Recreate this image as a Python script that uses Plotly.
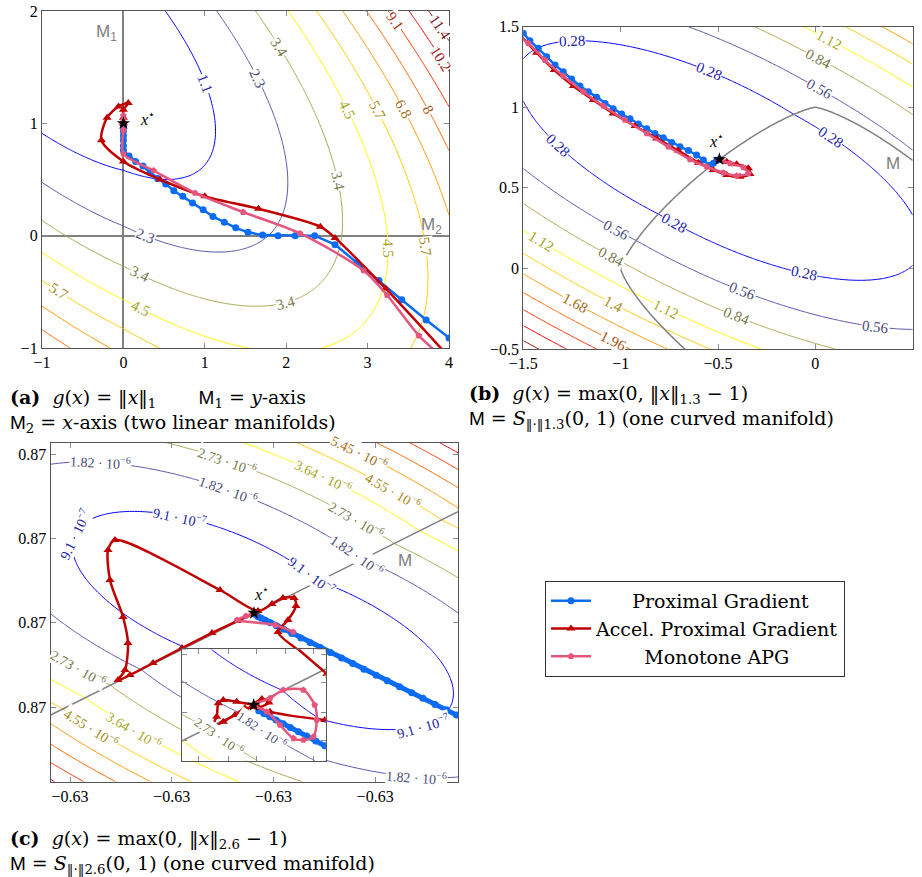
import numpy as np
import plotly.graph_objects as go

W, H = 922, 877
SERIF = "Liberation Serif, DejaVu Serif, serif"
TEXT_SERIF = "DejaVu Serif, Liberation Serif, serif"
SANS = "Liberation Sans, DejaVu Sans, sans-serif"

LEVEL_COLORS = ["#0000ff", "#5555aa", "#aaaa55", "#ffff00", "#ffcc00",
                "#ff9900", "#ff6600", "#ff3300", "#e60000", "#a00000"]
PG_COLOR = "#0a6cf5"
APG_COLOR = "#c00000"
MAPG_COLOR = "#e5567c"
M_GRAY = "#808080"

# ---------------- panel (a): F = quadratic + weighted |x1|, |x2| ----------------
COEF_A = [1.043, 1.002, 1.942, -0.9755, -2.974, 2.52, -0.09259, 0.03062]
STEP_A = 1.13636
LEVEL_TEXT_A = ["1.1", "2.3", "3.4", "4.5", "5.7", "6.8", "8", "9.1", "10.2", "11.4"]
RANGE_A_X = [-1, 4]
RANGE_A_Y = [-1, 2]
TICKS_A_X = [-1, 0, 1, 2, 3, 4]
TICKS_A_Y = [-1, 0, 1, 2]
STAR_A = (0.0, 1.0)
PG_A_X = [4.25, 4.0, 3.72, 3.42, 3.14, 2.87, 2.60, 2.35, 2.11, 1.90, 1.71, 1.53, 1.38, 1.24, 1.10,
          0.98, 0.85, 0.73, 0.62, 0.52, 0.42, 0.33, 0.24, 0.15, 0.07, 0.0, 0.0, 0.0, 0.0, 0.0,
          0.0, 0.0, 0.0]
PG_A_Y = [-1.12, -0.91, -0.75, -0.57, -0.40, -0.24, -0.08, 0.0, 0.0, 0.0, 0.005, 0.03, 0.07, 0.12,
          0.17, 0.23, 0.29, 0.35, 0.40, 0.46, 0.51, 0.56, 0.62, 0.66, 0.71, 0.76, 0.80, 0.85,
          0.89, 0.93, 0.96, 0.98, 1.0]
APG_A_X = [4.05, 3.22, 2.60, 2.42, 1.66, 1.00, 0.45, 0.0, -0.27, -0.20, -0.06, 0.06, 0.0, 0.0, 0.0]
APG_A_Y = [-1.12, -0.47, -0.02, 0.08, 0.24, 0.35, 0.50, 0.66, 0.85, 1.05, 1.15, 1.18, 1.12, 1.05, 1.0]
MAPG_A_X = [3.95, 3.63, 3.24, 2.95, 2.17, 1.47, 0.88, 0.37, 0.0, 0.0, 0.0, 0.0, 0.0]
MAPG_A_Y = [-1.1, -0.89, -0.53, -0.31, 0.02, 0.21, 0.38, 0.58, 0.73, 0.94, 1.07, 1.03, 1.0]
# where the level labels sit: (x, y, level number)
LABELS_A = [(0.98, 1.34, 1), (1.64, 1.39, 2), (0.27, -0.02, 2), (1.90, 1.67, 3), (2.62, 0.48, 3),
            (0.20, -0.35, 3), (1.99, -0.59, 3), (2.75, 1.12, 4), (3.24, -0.11, 4), (0.20, -0.66, 4),
            (3.12, 1.12, 5), (3.70, -0.10, 5), (-0.80, -0.50, 5), (3.43, 1.12, 6), (3.75, 1.12, 7),
            (3.30, 1.88, 8), (3.86, 1.54, 9), (3.86, 1.83, 10)]

# ---------------- panel (b): F = quadratic + w * max(0, ||x||_1.3 - 1) ----------------
COEF_B = [1.025, 0.956, 1.981, -0.1641, -0.8254, 0.2405, -0.06956]
STEP_B = 0.28
P_B = 1.3
LEVEL_TEXT_B = ["0.28", "0.56", "0.84", "1.12", "1.4", "1.68", "1.96", "2.24", "2.52", "2.8"]
RANGE_B_X = [-1.5, 0.5]
RANGE_B_Y = [-0.5, 1.5]
TICKS_B_X = [-1.5, -1, -0.5, 0, 0.5]
TICKS_B_Y = [-0.5, 0, 0.5, 1, 1.5]
STAR_B = (-0.493, 0.677)
PG_B_X = [-1.55, -1.5, -1.466, -1.423, -1.380, -1.337, -1.295, -1.252, -1.209, -1.166, -1.123, -1.080,
          -1.038, -0.995, -0.952, -0.909, -0.866, -0.824, -0.781, -0.738, -0.695, -0.652, -0.610,
          -0.575, -0.545, -0.524, -0.507, -0.493]
PG_B_Y = [1.51, 1.46, 1.413, 1.366, 1.314, 1.262, 1.221, 1.175, 1.132, 1.097, 1.062, 1.024, 0.991,
          0.958, 0.929, 0.896, 0.867, 0.838, 0.811, 0.782, 0.755, 0.731, 0.704, 0.673, 0.638, 0.652,
          0.669, 0.677]
APG_B_X = [-1.55, -1.432, -1.341, -1.243, -1.140, -1.038, -0.926, -0.815, -0.704, -0.601, -0.524,
           -0.455, -0.387, -0.336, -0.344, -0.404, -0.455, -0.493]
APG_B_Y = [1.49, 1.339, 1.231, 1.132, 1.045, 0.962, 0.884, 0.807, 0.731, 0.656, 0.611, 0.580, 0.569,
           0.586, 0.621, 0.646, 0.662, 0.677]
MAPG_B_X = [-1.55, -1.474, -1.389, -1.295, -1.192, -1.089, -0.978, -0.866, -0.755, -0.644, -0.558,
            -0.473, -0.404, -0.344, -0.370, -0.438, -0.493]
MAPG_B_Y = [1.47, 1.397, 1.293, 1.194, 1.097, 1.008, 0.921, 0.838, 0.755, 0.677, 0.631, 0.594, 0.575,
            0.590, 0.627, 0.652, 0.677]
LABELS_B = [(-1.25, 1.42, 1), (-0.55, 1.22, 1), (0.08, 0.82, 1), (-1.33, 0.76, 1), (-0.74, 0.26, 1),
            (-0.06, -0.03, 1), (0.02, 1.11, 2), (-1.03, 0.23, 2), (-0.37, -0.13, 2), (0.31, -0.37, 2),
            (0.01, 1.29, 3), (-1.05, 0.07, 3), (-0.40, -0.29, 3), (0.06, 1.40, 4), (-1.41, 0.17, 4),
            (-0.77, -0.25, 4), (-1.04, -0.22, 5), (-1.23, -0.21, 6), (-1.02, -0.42, 7)]

# ---------------- panel (c): close-up near x* (local units, labels every 1e-4) ----------------
COEF_C = [0.8631, 0.7207, 1.841, -2.521, -3.012, 4.303, -0.606]
STEP_C = 0.909091  # contour spacing, in units of 1e-6
LEVEL_TEXT_C = ["9.1 \u00b7 10<sup>\u22127</sup>", "1.82 \u00b7 10<sup>\u22126</sup>",
                "2.73 \u00b7 10<sup>\u22126</sup>", "3.64 \u00b7 10<sup>\u22126</sup>",
                "4.55 \u00b7 10<sup>\u22126</sup>", "5.45 \u00b7 10<sup>\u22126</sup>",
                "6.36 \u00b7 10<sup>\u22126</sup>", "7.27 \u00b7 10<sup>\u22126</sup>",
                "8.18 \u00b7 10<sup>\u22126</sup>", "9.09 \u00b7 10<sup>\u22126</sup>"]
TICKS_C_X = [0, 1, 2, 3]
TICKS_C_Y = [0, 1, 2, 3]
TICKTEXT_C_X = ["\u22120.63"] * 4
TICKTEXT_C_Y = ["0.87"] * 4
RANGE_C_X = [-0.19, 3.815]
RANGE_C_Y = [-0.886, 3.135]
M_C_X = [-0.19, 3.815]
M_C_Y = [-0.095, 2.317]
STAR_C = (1.809, 1.115)
PG_C_X = [3.95, 3.80, 3.70, 3.59, 3.47, 3.36, 3.24, 3.12, 3.01, 2.89, 2.78, 2.67, 2.56, 2.46, 2.36, 2.27,
          2.18, 2.10, 2.03, 1.97, 1.92, 1.88, 1.85, 1.83, 1.809]
PG_C_Y = [-0.184, -0.094, -0.034, 0.031, 0.103, 0.169, 0.240, 0.312, 0.377, 0.449, 0.515, 0.580, 0.646,
          0.706, 0.766, 0.819, 0.873, 0.921, 0.963, 0.998, 1.028, 1.052, 1.07, 1.09, 1.115]
APG_C_X = [2.478, 2.262, 2.045, 2.144, 2.222, 2.203, 2.094, 1.986, 1.849, 1.475, 0.442, 0.374, 0.393,
           0.521, 0.570, 0.541, 0.472, 0.590, 0.816, 1.101, 1.396, 1.642, 1.809]
APG_C_Y = [0.368, 0.652, 0.890, 1.032, 1.198, 1.293, 1.293, 1.222, 1.139, 1.388, 1.981, 1.862, 1.507,
           1.068, 0.759, 0.439, 0.320, 0.380, 0.522, 0.700, 0.878, 1.020, 1.115]
MAPG_C_X = [2.193, 2.016, 1.642, 1.731, 1.809]
MAPG_C_Y = [0.890, 0.973, 1.032, 1.079, 1.115]
LABELS_C = [(1.10, 2.34, 1), (2.46, 1.66, 1), (-0.10, 2.10, 1), (3.47, -0.23, 1), (1.57, 2.59, 2),
            (2.87, 1.86, 2), (3.41, -0.75, 2), (0.30, 2.95, 2), (1.54, 2.89, 3), (2.82, 2.22, 3),
            (0.07, 0.44, 3), (2.44, 2.65, 4), (0.69, -0.19, 4), (3.11, 2.46, 5), (0.26, -0.19, 5),
            (2.79, 2.93, 6)]

# inset of panel (c): coordinates relative to x*
INSET_CENTER = (0.85, 0.531)
RANGE_IN_U = [-0.708, 0.708]
RANGE_IN_V = [-0.66, 0.66]
TICKS_IN_U = [-0.546, -0.251, 0.023, 0.308, 0.587]
TICKS_IN_V = [-0.415, -0.083, 0.261, 0.593]
PG_IN_U = [0.05, 0.10, 0.16, 0.22, 0.29, 0.36, 0.44, 0.52, 0.61, 0.70, 0.80]
PG_IN_V = [-0.069, -0.101, -0.139, -0.178, -0.222, -0.267, -0.317, -0.368, -0.426, -0.483, -0.546]
APG_IN_U = [0.40, 0.72, 1.0, 0.95, 0.70, 0.16, 0.0, 0.08, 0.15, 0.05, -0.086, -0.184, -0.299, -0.397,
            -0.43, -0.364, -0.348, -0.299, -0.167, 0.0]
APG_IN_V = [0.70, 0.37, 0.1, -0.2, -0.178, -0.079, 0.0, 0.07, 0.03, -0.03, -0.039, -0.119, -0.198,
            -0.265, -0.297, -0.139, 0.02, 0.059, 0.039, 0.0]
MAPG_IN_U = [0.0, 0.128, 0.259, 0.39, 0.488, 0.586, 0.62, 0.60, 0.488, 0.29, 0.16, 0.0]
MAPG_IN_V = [0.0, -0.079, -0.237, -0.395, -0.415, -0.376, -0.178, 0.0, 0.178, 0.178, 0.079, 0.0]
LABELS_IN = [(-0.40, -0.45, 3), (-0.05, -0.48, 2)]

# plot areas in pixels: (left, top, right, bottom)
BOX_A = (42, 11, 449, 348)
BOX_B = (523.3, 26.7, 912.7, 349)
BOX_C = (50.7, 442.7, 458, 781.7)
BOX_IN = (181.7, 649.3, 325.7, 760.7)


def label_color(hex_color):
    r, g, b = (int(hex_color[i:i + 2], 16) for i in (1, 3, 5))
    mix = lambda c: int(round(0.55 * c + 0.45 * 60))
    return f"rgb({mix(r)},{mix(g)},{mix(b)})"


def norm_p(x, y, p):
    return (np.abs(x) ** p + np.abs(y) ** p) ** (1.0 / p)


M_SLOPE = (M_C_Y[1] - M_C_Y[0]) / (M_C_X[1] - M_C_X[0])
M_ICPT = M_C_Y[0] - M_SLOPE * M_C_X[0]


def quad(c, x, y):
    return 0.5 * c[0] * x * x + c[1] * x * y + 0.5 * c[2] * y * y + c[3] * x + c[4] * y + c[5]


def f_a(x, y):
    return quad(COEF_A, x, y) + COEF_A[6] * np.abs(x) + COEF_A[7] * np.abs(y)


def f_b(x, y):
    return quad(COEF_B, x, y) + COEF_B[6] * np.maximum(0.0, norm_p(x, y, P_B) - 1.0)


def f_c(x, y):
    dist = (y - M_SLOPE * x - M_ICPT) / np.sqrt(1 + M_SLOPE ** 2)
    return quad(COEF_C, x, y) + COEF_C[6] * np.maximum(0.0, dist)


def f_in(u, v):
    return f_c(u + INSET_CENTER[0], v + INSET_CENTER[1])


def grid(f, rx, ry, n):
    xs = np.linspace(rx[0], rx[1], n[0])
    ys = np.linspace(ry[0], ry[1], n[1])
    X, Y = np.meshgrid(xs, ys)
    return xs, ys, np.round(f(X, Y), 4)


fig = go.Figure()


def add_levels(f, rx, ry, n, step, xa, ya):
    xs, ys, z = grid(f, rx, ry, n)
    scale = [[k / 9, c] for k, c in enumerate(LEVEL_COLORS)]
    fig.add_trace(go.Contour(
        x=xs, y=ys, z=z, autocontour=False,
        contours=dict(start=step, end=10 * step, size=step, coloring="lines", showlabels=False),
        colorscale=scale, line=dict(width=1, smoothing=1), showscale=False,
        hoverinfo="skip", showlegend=False, xaxis=xa, yaxis=ya))


def add_paths(xa, ya, pg, apg, mapg, legend=False, pg_w=2.5, pg_size=7):
    pad = "\u00a0"
    fig.add_trace(go.Scatter(x=pg[0], y=pg[1], mode="lines+markers", name=pad * 6 + "Proximal Gradient",
                             line=dict(color=PG_COLOR, width=pg_w),
                             marker=dict(symbol="circle", size=pg_size, color=PG_COLOR),
                             showlegend=legend, xaxis=xa, yaxis=ya, hoverinfo="skip"))
    fig.add_trace(go.Scatter(x=apg[0], y=apg[1], mode="lines+markers", name="Accel. Proximal Gradient",
                             line=dict(color=APG_COLOR, width=2.5, shape="spline", smoothing=0.8),
                             marker=dict(symbol="triangle-up", size=8, color=APG_COLOR),
                             showlegend=legend, xaxis=xa, yaxis=ya, hoverinfo="skip"))
    fig.add_trace(go.Scatter(x=mapg[0], y=mapg[1], mode="lines+markers", name=pad * 8 + "Monotone APG",
                             line=dict(color=MAPG_COLOR, width=2.5, shape="spline", smoothing=0.8),
                             marker=dict(symbol="pentagon", size=7, color=MAPG_COLOR),
                             showlegend=legend, xaxis=xa, yaxis=ya, hoverinfo="skip"))


def add_star(xa, ya, pt, size=10):
    fig.add_trace(go.Scatter(x=[pt[0]], y=[pt[1]], mode="markers",
                             marker=dict(symbol="star", size=size, color="black"),
                             showlegend=False, xaxis=xa, yaxis=ya, hoverinfo="skip"))


# panel (a)
add_levels(f_a, RANGE_A_X, RANGE_A_Y, (201, 121), STEP_A, "x", "y")
add_paths("x", "y", (PG_A_X, PG_A_Y), (APG_A_X, APG_A_Y), (MAPG_A_X, MAPG_A_Y), legend=True)
add_star("x", "y", STAR_A)

# panel (b) and its manifold, the unit sphere of the 1.3-norm
add_levels(f_b, RANGE_B_X, RANGE_B_Y, (161, 161), STEP_B, "x2", "y2")
xs_b, ys_b, n_b = grid(lambda x, y: norm_p(x, y, P_B), RANGE_B_X, RANGE_B_Y, (161, 161))
fig.add_trace(go.Contour(x=xs_b, y=ys_b, z=n_b, autocontour=False,
                         contours=dict(start=1, end=1, size=1, coloring="none", showlabels=False),
                         line=dict(color=M_GRAY, width=1.5, smoothing=1), showscale=False,
                         hoverinfo="skip", showlegend=False, xaxis="x2", yaxis="y2"))
add_paths("x2", "y2", (PG_B_X, PG_B_Y), (APG_B_X, APG_B_Y), (MAPG_B_X, MAPG_B_Y))
add_star("x2", "y2", STAR_B)

# panel (c)
add_levels(f_c, RANGE_C_X, RANGE_C_Y, (161, 161), STEP_C, "x3", "y3")
fig.add_trace(go.Scatter(x=M_C_X, y=M_C_Y, mode="lines", line=dict(color=M_GRAY, width=1.5),
                         showlegend=False, xaxis="x3", yaxis="y3", hoverinfo="skip"))
add_paths("x3", "y3", (PG_C_X, PG_C_Y), (APG_C_X, APG_C_Y), (MAPG_C_X, MAPG_C_Y), pg_w=5)
add_star("x3", "y3", STAR_C)

# inset
add_levels(f_in, RANGE_IN_U, RANGE_IN_V, (81, 81), STEP_C, "x4", "y4")
fig.add_trace(go.Scatter(x=[m - INSET_CENTER[0] for m in M_C_X], y=[m - INSET_CENTER[1] for m in M_C_Y],
                         mode="lines", line=dict(color=M_GRAY, width=1.5),
                         showlegend=False, xaxis="x4", yaxis="y4", hoverinfo="skip"))
add_paths("x4", "y4", (PG_IN_U, PG_IN_V), (APG_IN_U, APG_IN_V), (MAPG_IN_U, MAPG_IN_V), pg_w=5)
add_star("x4", "y4", (0.0, 0.0))


def axis(box, horizontal, rng, tickvals, ticktext=None, showlabels=True, zeroline=False, anchor=None):
    if horizontal:
        domain = [box[0] / W, box[2] / W]
    else:
        domain = [1 - box[3] / H, 1 - box[1] / H]
    d = dict(domain=domain, range=rng, showline=True, linecolor="#555555", linewidth=1.3,
             mirror="ticks", ticks="inside", ticklen=5, tickcolor="#8a8a8a", tickwidth=1,
             showgrid=False, zeroline=zeroline, zerolinecolor=M_GRAY, zerolinewidth=1.5,
             tickfont=dict(family=SERIF, size=16, color="black"), fixedrange=True,
             showticklabels=showlabels, anchor=anchor, tickmode="array", tickvals=tickvals)
    if ticktext is not None:
        d["ticktext"] = ticktext
    return d


fig.update_layout(
    width=W, height=H, margin=dict(l=0, r=0, t=0, b=0, autoexpand=False),
    paper_bgcolor="white", plot_bgcolor="white",
    xaxis=axis(BOX_A, True, RANGE_A_X, TICKS_A_X, zeroline=True, anchor="y"),
    yaxis=axis(BOX_A, False, RANGE_A_Y, TICKS_A_Y, zeroline=True, anchor="x"),
    xaxis2=axis(BOX_B, True, RANGE_B_X, TICKS_B_X, anchor="y2"),
    yaxis2=axis(BOX_B, False, RANGE_B_Y, TICKS_B_Y, anchor="x2"),
    xaxis3=axis(BOX_C, True, RANGE_C_X, TICKS_C_X, TICKTEXT_C_X, anchor="y3"),
    yaxis3=axis(BOX_C, False, RANGE_C_Y, TICKS_C_Y, TICKTEXT_C_Y, anchor="x3"),
    xaxis4=axis(BOX_IN, True, RANGE_IN_U, TICKS_IN_U, showlabels=False, anchor="y4"),
    yaxis4=axis(BOX_IN, False, RANGE_IN_V, TICKS_IN_V, showlabels=False, anchor="x4"),
    legend=dict(x=545 / W, y=1 - 581 / H, xanchor="left", yanchor="top", bgcolor="white",
                bordercolor="#333333", borderwidth=1,
                font=dict(family=TEXT_SERIF, size=19, color="black"),
                tracegroupgap=0, itemwidth=40),
    showlegend=True,
)

ann = []


def text(xref, yref, x, y, s, size=16, color="black", family=SERIF, xanchor="center",
         yanchor="middle", angle=0, bg=None):
    d = dict(xref=xref, yref=yref, x=x, y=y, text=s, showarrow=False, xanchor=xanchor,
             yanchor=yanchor, textangle=angle, font=dict(family=family, size=size, color=color))
    if bg:
        d.update(bgcolor=bg, borderpad=0)
    ann.append(d)


def contour_labels(f, box, rx, ry, labels, step, texts, xref, yref, size=14):
    # put each label on its level line, turned along the line
    sx = (box[2] - box[0]) / (rx[1] - rx[0])
    sy = (box[3] - box[1]) / (ry[1] - ry[0])
    h = 1e-5
    for x, y, k in labels:
        lev = k * step
        for _ in range(40):
            val = float(f(x, y)) - lev
            gx = (float(f(x + h, y)) - float(f(x - h, y))) / (2 * h)
            gy = (float(f(x, y + h)) - float(f(x, y - h))) / (2 * h)
            g2 = gx * gx + gy * gy
            if g2 == 0:
                break
            x -= val * gx / g2
            y -= val * gy / g2
        ang = np.degrees(np.arctan2(-gx * sy, -gy * sx))
        if ang > 90:
            ang -= 180
        if ang < -90:
            ang += 180
        col = label_color(LEVEL_COLORS[k - 1])
        text(xref, yref, x, y, texts[k - 1], size=size, color=col, angle=ang, bg="white")


contour_labels(f_a, BOX_A, RANGE_A_X, RANGE_A_Y, LABELS_A, STEP_A, LEVEL_TEXT_A, "x", "y", size=15)
contour_labels(f_b, BOX_B, RANGE_B_X, RANGE_B_Y, LABELS_B, STEP_B, LEVEL_TEXT_B, "x2", "y2", size=15)
contour_labels(f_c, BOX_C, RANGE_C_X, RANGE_C_Y, LABELS_C, STEP_C, LEVEL_TEXT_C, "x3", "y3")
contour_labels(f_in, BOX_IN, RANGE_IN_U, RANGE_IN_V, LABELS_IN, STEP_C, LEVEL_TEXT_C, "x4", "y4", size=13)

XSTAR = "<i>x</i><sup>\u22c6</sup>"
text("x", "y", 0.29, 1.05, XSTAR)
text("x", "y", -0.21, 1.8, "M<sub>1</sub>", size=17, color=M_GRAY, family=SANS)
text("x", "y", 3.79, 0.09, "M<sub>2</sub>", size=17, color=M_GRAY, family=SANS)
text("x2", "y2", -0.51, 0.80, XSTAR)
text("x2", "y2", 0.40, 0.65, "M", size=17, color=M_GRAY, family=SANS)
text("x3", "y3", 1.88, 1.35, XSTAR)
text("x3", "y3", 3.29, 1.74, "M", size=17, color=M_GRAY, family=SANS)

MS = "<span style='font-family:Liberation Sans'>M</span>"
NB = "&nbsp;"
EQ = NB + "=" + NB
CAPTIONS = [
    (8, 398, "<b>(a)</b>" + NB * 2 + "<i>g</i>(<i>x</i>)" + EQ + "\u2016<i>x</i>\u2016<sub>1</sub>"
             + NB * 7 + MS + "<sub>1</sub>" + EQ + "<i>y</i>-axis"),
    (8, 423, MS + "<sub>2</sub>" + EQ + "<i>x</i>-axis (two linear manifolds)"),
    (467, 394, "<b>(b)</b>" + NB * 2 + "<i>g</i>(<i>x</i>)" + EQ
               + "max(0, \u2016<i>x</i>\u2016<sub>1.3</sub> \u2212 1)"),
    (467, 419, MS + EQ + "<i>S</i><sub>\u2016\u00b7\u20161.3</sub>(0, 1) (one curved manifold)"),
    (8, 839, "<b>(c)</b>" + NB * 2 + "<i>g</i>(<i>x</i>)" + EQ
             + "max(0, \u2016<i>x</i>\u2016<sub>2.6</sub> \u2212 1)"),
    (8, 864, MS + EQ + "<i>S</i><sub>\u2016\u00b7\u20162.6</sub>(0, 1) (one curved manifold)"),
]
for px, py, s in CAPTIONS:
    text("paper", "paper", px / W, 1 - py / H, s, size=19, family=TEXT_SERIF, xanchor="left")

fig.update_layout(annotations=ann)
fig.write_html("out.html")
